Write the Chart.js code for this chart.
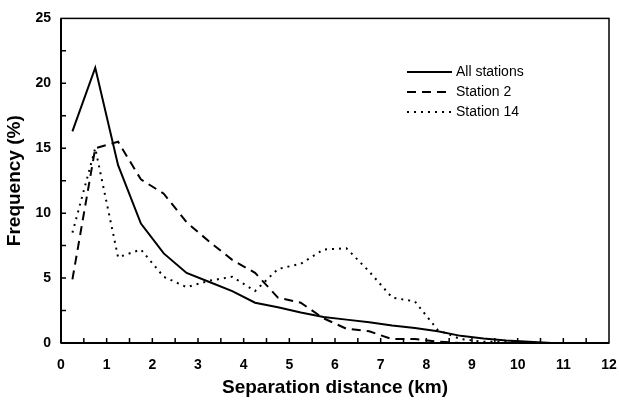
<!DOCTYPE html>
<html>
<head>
<meta charset="utf-8">
<script src="https://cdn.jsdelivr.net/npm/chart.js@4"></script>
<style>
  html, body { margin: 0; padding: 0; background: #fff; }
  #wrap { width: 619px; height: 403px; }
</style>
</head>
<body>
<div id="wrap"><canvas id="myChart" width="619" height="403"></canvas></div>
<script>
const distances = [0.25, 0.75, 1.25, 1.75, 2.25, 2.75, 3.25, 3.75, 4.25, 4.75, 5.25, 5.75,
  6.25, 6.75, 7.25, 7.75, 8.25, 8.75, 9.25, 9.75, 10.25, 10.75, 11.25, 11.75];
const allStations = [16.3, 21.2, 13.7, 9.2, 6.9, 5.4, 4.7, 4.0, 3.1, 2.75, 2.35, 2.0,
  1.8, 1.6, 1.35, 1.15, 0.9, 0.55, 0.35, 0.2, 0.1, 0, 0, 0];
const station2 = [4.9, 15.0, 15.5, 12.6, 11.5, 9.3, 7.8, 6.4, 5.4, 3.5, 3.1, 1.9,
  1.1, 0.9, 0.3, 0.3, 0.1, 0, 0, 0, 0, 0, 0, 0];
const station14 = [8.5, 15.0, 6.6, 7.2, 5.1, 4.3, 4.8, 5.1, 4.0, 5.7, 6.1, 7.2,
  7.3, 5.5, 3.5, 3.2, 1.0, 0.3, 0.1, 0.1, 0, 0, 0, 0];
const seriesNames = ["All stations", "Station 2", "Station 14"];
const xTicks = [0, 1, 2, 3, 4, 5, 6, 7, 8, 9, 10, 11, 12];
const yTicks = [0, 5, 10, 15, 20, 25];

const ctx = document.getElementById("myChart");
const font = "'Liberation Sans', Arial, sans-serif";

const toPoints = (ys) => ys.map((y, i) => ({ x: distances[i], y: y }));

// frame, inward ticks and legend drawn by hand
const framePlugin = {
  id: "frame",
  afterDraw(chart) {
    const c = chart.ctx;
    const a = chart.chartArea;
    const xs = chart.scales.x;
    const ys = chart.scales.y;
    c.save();
    c.strokeStyle = "#000";
    c.lineWidth = 1.5;
    c.strokeRect(a.left, a.top, a.right - a.left, a.bottom - a.top);
    c.lineWidth = 2;
    c.beginPath();
    c.moveTo(a.left, a.bottom);
    c.lineTo(a.right, a.bottom);
    c.moveTo(a.left, a.top);
    c.lineTo(a.left, a.bottom);
    c.stroke();
    c.lineWidth = 1.5;
    c.beginPath();
    for (let v = 0.5; v < 12; v += 0.5) {
      const px = xs.getPixelForValue(v);
      c.moveTo(px, a.bottom);
      c.lineTo(px, a.bottom - 5);
    }
    for (let v = 2.5; v < 25; v += 2.5) {
      const py = ys.getPixelForValue(v);
      c.moveTo(a.left, py);
      c.lineTo(a.left + 5, py);
    }
    c.stroke();

    // legend
    const lx = 407, ly = 72, gap = 20;
    chart.data.datasets.forEach((ds, i) => {
      const y = ly + i * gap;
      c.strokeStyle = "#000";
      c.lineWidth = ds.borderWidth;
      c.setLineDash(ds.borderDash || []);
      c.beginPath();
      c.moveTo(lx, y);
      c.lineTo(lx + 45, y);
      c.stroke();
      c.setLineDash([]);
      c.fillStyle = "#000";
      c.font = "14px " + font;
      c.textBaseline = "middle";
      c.fillText(ds.label, lx + 49, y);
    });
    c.restore();
  },
};

new Chart(ctx, {
  type: "line",
  data: {
    datasets: [
      {
        label: seriesNames[0],
        data: toPoints(allStations),
        borderColor: "#000",
        borderWidth: 2,
      },
      {
        label: seriesNames[1],
        data: toPoints(station2),
        borderColor: "#000",
        borderWidth: 2,
        borderDash: [9, 6],
      },
      {
        label: seriesNames[2],
        data: toPoints(station14),
        borderColor: "#000",
        borderWidth: 2,
        borderDash: [2, 5],
      },
    ],
  },
  plugins: [framePlugin],
  options: {
    responsive: false,
    animation: false,
    layout: { padding: { top: 16, right: 0, left: 0, bottom: 0 } },
    elements: { point: { radius: 0 }, line: { tension: 0 } },
    plugins: {
      legend: { display: false },
      tooltip: { enabled: false },
    },
    scales: {
      x: {
        type: "linear",
        min: 0,
        max: 12,
        afterBuildTicks: (scale) => {
          scale.ticks = xTicks.map((v) => ({ value: v }));
        },
        afterFit: (scale) => {
          scale.height = 60;
          scale.paddingRight = 10;
        },
        grid: { display: false, drawTicks: false },
        border: { display: false },
        ticks: {
          color: "#000",
          padding: 14,
          maxRotation: 0,
          font: { family: font, size: 14, weight: "bold" },
        },
        title: {
          display: true,
          text: "Separation distance (km)",
          color: "#000",
          padding: { top: 5 },
          font: { family: font, size: 19, weight: "bold" },
        },
      },
      y: {
        min: 0,
        max: 25,
        afterBuildTicks: (scale) => {
          scale.ticks = yTicks.map((v) => ({ value: v }));
        },
        afterFit: (scale) => {
          scale.width = 61;
        },
        grid: { display: false, drawTicks: false },
        border: { display: false },
        ticks: {
          color: "#000",
          padding: 10,
          font: { family: font, size: 14, weight: "bold" },
        },
        title: {
          display: true,
          text: "Frequency (%)",
          color: "#000",
          padding: { bottom: 0, top: 3 },
          font: { family: font, size: 19, weight: "bold" },
        },
      },
    },
  },
});
</script>
</body>
</html>
